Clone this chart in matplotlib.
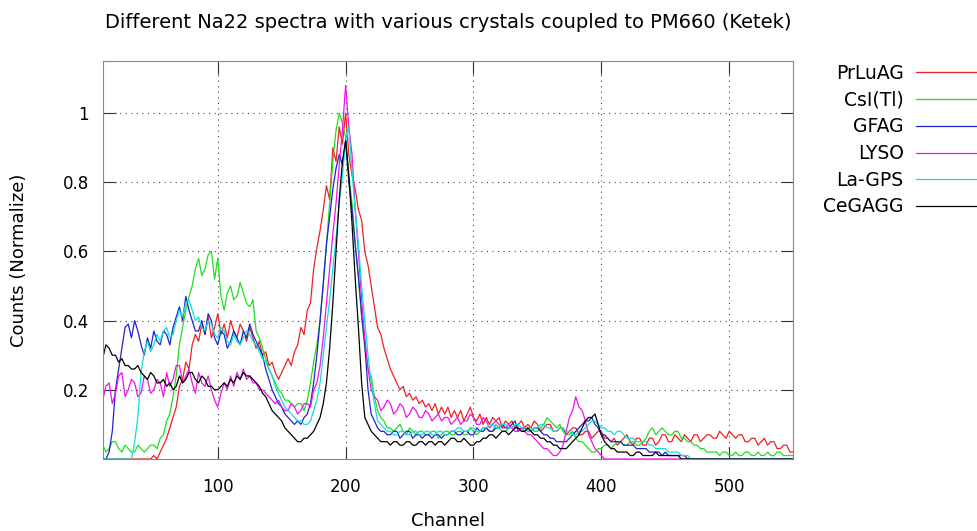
import numpy as np
import matplotlib
matplotlib.use("Agg")
import matplotlib.pyplot as plt

# channel grid: one reading every 2.5 channels, 10 .. 550
channels = np.arange(10, 550.1, 2.5)

prluag = [0.00, 0.00, 0.00, 0.00, 0.00, 0.00, 0.00, 0.00, 0.00, 0.00,
          0.00, 0.00, 0.00, 0.00, 0.00, 0.00, 0.01, 0.00, 0.02, 0.04,
          0.06, 0.09, 0.12, 0.15, 0.21, 0.23, 0.28, 0.26, 0.33, 0.36,
          0.34, 0.39, 0.36, 0.41, 0.35, 0.38, 0.42, 0.36, 0.39, 0.35,
          0.40, 0.37, 0.35, 0.39, 0.37, 0.34, 0.38, 0.35, 0.32, 0.34,
          0.30, 0.31, 0.27, 0.28, 0.25, 0.23, 0.25, 0.27, 0.29, 0.27,
          0.31, 0.33, 0.38, 0.36, 0.43, 0.45, 0.55, 0.61, 0.66, 0.72,
          0.79, 0.75, 0.90, 0.86, 0.96, 0.91, 1.00, 0.88, 0.82, 0.78,
          0.72, 0.69, 0.60, 0.56, 0.50, 0.44, 0.38, 0.36, 0.32, 0.29,
          0.26, 0.24, 0.22, 0.20, 0.21, 0.18, 0.19, 0.17, 0.18, 0.16,
          0.17, 0.15, 0.16, 0.14, 0.16, 0.13, 0.15, 0.13, 0.15, 0.12,
          0.14, 0.12, 0.14, 0.11, 0.13, 0.15, 0.12, 0.11, 0.13, 0.10,
          0.12, 0.10, 0.12, 0.11, 0.12, 0.09, 0.11, 0.10, 0.11, 0.09,
          0.10, 0.11, 0.09, 0.10, 0.09, 0.11, 0.10, 0.08, 0.09, 0.10,
          0.10, 0.08, 0.08, 0.09, 0.09, 0.07, 0.08, 0.09, 0.09, 0.07,
          0.07, 0.08, 0.08, 0.06, 0.07, 0.08, 0.08, 0.06, 0.06, 0.05,
          0.06, 0.04, 0.05, 0.06, 0.07, 0.05, 0.04, 0.06, 0.06, 0.04,
          0.04, 0.06, 0.06, 0.04, 0.05, 0.07, 0.07, 0.05, 0.05, 0.07,
          0.06, 0.05, 0.07, 0.06, 0.05, 0.07, 0.07, 0.05, 0.06, 0.07,
          0.07, 0.06, 0.06, 0.08, 0.07, 0.06, 0.08, 0.07, 0.06, 0.07,
          0.07, 0.05, 0.05, 0.06, 0.06, 0.04, 0.05, 0.06, 0.04, 0.05,
          0.05, 0.03, 0.03, 0.04, 0.04, 0.02, 0.02]

csi = [0.04, 0.02, 0.03, 0.05, 0.05, 0.03, 0.02, 0.04, 0.03, 0.02,
       0.02, 0.04, 0.03, 0.02, 0.03, 0.04, 0.04, 0.03, 0.06, 0.07,
       0.11, 0.13, 0.18, 0.24, 0.33, 0.38, 0.43, 0.47, 0.50, 0.55,
       0.58, 0.53, 0.55, 0.59, 0.60, 0.52, 0.58, 0.47, 0.43, 0.48,
       0.50, 0.46, 0.47, 0.51, 0.48, 0.45, 0.44, 0.46, 0.37, 0.35,
       0.32, 0.29, 0.26, 0.24, 0.22, 0.20, 0.19, 0.17, 0.17, 0.16,
       0.15, 0.16, 0.16, 0.14, 0.17, 0.22, 0.28, 0.33, 0.40, 0.50,
       0.62, 0.74, 0.86, 0.95, 1.00, 0.97, 0.93, 0.82, 0.74, 0.62,
       0.52, 0.41, 0.32, 0.26, 0.24, 0.18, 0.14, 0.12, 0.11, 0.09,
       0.09, 0.08, 0.09, 0.10, 0.08, 0.07, 0.09, 0.08, 0.07, 0.08,
       0.08, 0.07, 0.07, 0.08, 0.08, 0.06, 0.07, 0.08, 0.08, 0.07,
       0.07, 0.08, 0.08, 0.07, 0.07, 0.09, 0.08, 0.07, 0.08, 0.09,
       0.09, 0.08, 0.08, 0.10, 0.09, 0.08, 0.08, 0.09, 0.09, 0.10,
       0.09, 0.08, 0.08, 0.09, 0.09, 0.08, 0.08, 0.09, 0.10, 0.12,
       0.11, 0.10, 0.09, 0.10, 0.08, 0.07, 0.07, 0.08, 0.06, 0.05,
       0.05, 0.04, 0.03, 0.02, 0.02, 0.03, 0.03, 0.04, 0.04, 0.03,
       0.04, 0.05, 0.05, 0.04, 0.04, 0.05, 0.05, 0.04, 0.04, 0.05,
       0.06, 0.08, 0.09, 0.07, 0.08, 0.09, 0.08, 0.07, 0.07, 0.08,
       0.08, 0.06, 0.06, 0.05, 0.05, 0.04, 0.04, 0.03, 0.03, 0.02,
       0.02, 0.02, 0.02, 0.01, 0.02, 0.02, 0.01, 0.01, 0.02, 0.01,
       0.01, 0.02, 0.02, 0.01, 0.01, 0.02, 0.01, 0.01, 0.02, 0.01,
       0.01, 0.02, 0.02, 0.01, 0.01, 0.01, 0.01]

gfag = [0.00, 0.00, 0.02, 0.08, 0.20, 0.26, 0.32, 0.38, 0.39, 0.35,
        0.40, 0.37, 0.33, 0.30, 0.35, 0.32, 0.37, 0.34, 0.33, 0.37,
        0.36, 0.33, 0.38, 0.41, 0.44, 0.40, 0.47, 0.43, 0.40, 0.37,
        0.37, 0.40, 0.36, 0.42, 0.40, 0.35, 0.33, 0.37, 0.36, 0.32,
        0.34, 0.37, 0.35, 0.33, 0.37, 0.35, 0.39, 0.36, 0.34, 0.32,
        0.30, 0.26, 0.23, 0.20, 0.18, 0.16, 0.15, 0.13, 0.12, 0.11,
        0.10, 0.11, 0.10, 0.12, 0.13, 0.16, 0.22, 0.30, 0.40, 0.51,
        0.62, 0.70, 0.78, 0.84, 0.88, 0.85, 0.92, 0.80, 0.72, 0.62,
        0.53, 0.42, 0.33, 0.20, 0.13, 0.11, 0.09, 0.08, 0.08, 0.07,
        0.07, 0.08, 0.08, 0.06, 0.07, 0.08, 0.08, 0.06, 0.07, 0.07,
        0.06, 0.07, 0.07, 0.06, 0.07, 0.07, 0.06, 0.07, 0.07, 0.08,
        0.08, 0.07, 0.07, 0.08, 0.08, 0.07, 0.07, 0.09, 0.08, 0.08,
        0.09, 0.08, 0.08, 0.09, 0.09, 0.10, 0.09, 0.09, 0.10, 0.11,
        0.08, 0.09, 0.09, 0.08, 0.08, 0.09, 0.09, 0.08, 0.07, 0.07,
        0.06, 0.06, 0.05, 0.05, 0.05, 0.05, 0.06, 0.07, 0.08, 0.09,
        0.10, 0.11, 0.11, 0.12, 0.10, 0.09, 0.07, 0.07, 0.06, 0.05,
        0.05, 0.05, 0.05, 0.04, 0.04, 0.04, 0.04, 0.03, 0.03, 0.03,
        0.03, 0.02, 0.02, 0.02, 0.02, 0.01, 0.02, 0.01, 0.01, 0.01,
        0.01, 0.01, 0.01, 0.00, 0.00, 0.00, 0.00, 0.00, 0.00, 0.00,
        0.00, 0.00, 0.00, 0.00, 0.00, 0.00, 0.00, 0.00, 0.00, 0.00,
        0.00, 0.00, 0.00, 0.00, 0.00, 0.00, 0.00, 0.00, 0.00, 0.00,
        0.00, 0.00, 0.00, 0.00, 0.00, 0.00, 0.00]

lyso = [0.17, 0.21, 0.22, 0.16, 0.19, 0.24, 0.25, 0.18, 0.20, 0.23,
        0.22, 0.18, 0.19, 0.24, 0.23, 0.19, 0.20, 0.23, 0.22, 0.18,
        0.25, 0.21, 0.23, 0.27, 0.27, 0.22, 0.24, 0.26, 0.22, 0.19,
        0.25, 0.22, 0.21, 0.24, 0.20, 0.17, 0.15, 0.19, 0.22, 0.20,
        0.24, 0.21, 0.25, 0.23, 0.26, 0.23, 0.24, 0.22, 0.22, 0.20,
        0.20, 0.19, 0.18, 0.17, 0.16, 0.17, 0.15, 0.14, 0.14, 0.16,
        0.15, 0.13, 0.14, 0.16, 0.16, 0.15, 0.20, 0.22, 0.27, 0.35,
        0.45, 0.55, 0.65, 0.74, 0.85, 0.95, 1.08, 0.96, 0.88, 0.72,
        0.60, 0.46, 0.35, 0.26, 0.20, 0.18, 0.17, 0.14, 0.15, 0.17,
        0.16, 0.13, 0.14, 0.16, 0.15, 0.12, 0.13, 0.15, 0.14, 0.12,
        0.12, 0.14, 0.13, 0.11, 0.12, 0.13, 0.11, 0.12, 0.12, 0.10,
        0.11, 0.12, 0.10, 0.11, 0.11, 0.13, 0.12, 0.10, 0.10, 0.12,
        0.11, 0.09, 0.10, 0.11, 0.10, 0.09, 0.09, 0.10, 0.09, 0.08,
        0.08, 0.09, 0.08, 0.07, 0.07, 0.06, 0.05, 0.04, 0.03, 0.03,
        0.02, 0.01, 0.01, 0.02, 0.04, 0.08, 0.12, 0.14, 0.18, 0.15,
        0.14, 0.11, 0.07, 0.05, 0.03, 0.02, 0.01, 0.00, 0.00, 0.00,
        0.00, 0.00, 0.00, 0.00, 0.00, 0.00, 0.00, 0.00, 0.00, 0.00,
        0.00, 0.00, 0.00, 0.00, 0.00, 0.00, 0.00, 0.00, 0.00, 0.00,
        0.00, 0.00, 0.00, 0.00, 0.00, 0.00, 0.00, 0.00, 0.00, 0.00,
        0.00, 0.00, 0.00, 0.00, 0.00, 0.00, 0.00, 0.00, 0.00, 0.00,
        0.00, 0.00, 0.00, 0.00, 0.00, 0.00, 0.00, 0.00, 0.00, 0.00,
        0.00, 0.00, 0.00, 0.00, 0.00, 0.00, 0.00]

lagps = [0.00, 0.00, 0.00, 0.00, 0.00, 0.00, 0.00, 0.00, 0.00, 0.00,
         0.05, 0.12, 0.25, 0.31, 0.34, 0.31, 0.33, 0.36, 0.34, 0.37,
         0.38, 0.35, 0.36, 0.40, 0.43, 0.41, 0.45, 0.46, 0.43, 0.40,
         0.41, 0.38, 0.37, 0.40, 0.39, 0.36, 0.35, 0.38, 0.37, 0.34,
         0.33, 0.36, 0.34, 0.33, 0.35, 0.37, 0.36, 0.34, 0.33, 0.31,
         0.29, 0.28, 0.26, 0.24, 0.21, 0.19, 0.17, 0.15, 0.14, 0.13,
         0.12, 0.11, 0.11, 0.10, 0.10, 0.11, 0.14, 0.17, 0.22, 0.30,
         0.38, 0.46, 0.55, 0.64, 0.74, 0.82, 0.92, 0.96, 0.83, 0.72,
         0.62, 0.50, 0.40, 0.30, 0.22, 0.16, 0.11, 0.10, 0.09, 0.08,
         0.08, 0.07, 0.07, 0.08, 0.08, 0.07, 0.07, 0.08, 0.08, 0.07,
         0.07, 0.08, 0.08, 0.07, 0.07, 0.08, 0.08, 0.07, 0.07, 0.08,
         0.08, 0.09, 0.09, 0.08, 0.08, 0.09, 0.09, 0.08, 0.08, 0.09,
         0.09, 0.10, 0.10, 0.09, 0.09, 0.10, 0.10, 0.09, 0.09, 0.10,
         0.10, 0.09, 0.09, 0.08, 0.08, 0.09, 0.09, 0.10, 0.10, 0.09,
         0.09, 0.08, 0.08, 0.09, 0.09, 0.08, 0.08, 0.07, 0.07, 0.08,
         0.08, 0.09, 0.10, 0.11, 0.11, 0.10, 0.09, 0.09, 0.08, 0.08,
         0.07, 0.08, 0.08, 0.07, 0.06, 0.06, 0.06, 0.05, 0.05, 0.05,
         0.05, 0.04, 0.04, 0.03, 0.03, 0.03, 0.03, 0.02, 0.02, 0.02,
         0.02, 0.01, 0.01, 0.01, 0.00, 0.00, 0.00, 0.00, 0.00, 0.00,
         0.00, 0.00, 0.00, 0.00, 0.00, 0.00, 0.00, 0.00, 0.00, 0.00,
         0.00, 0.00, 0.00, 0.00, 0.00, 0.00, 0.00, 0.00, 0.00, 0.00,
         0.00, 0.00, 0.00, 0.00, 0.00, 0.00, 0.00]

cegagg = [0.29, 0.33, 0.32, 0.30, 0.30, 0.28, 0.29, 0.27, 0.27, 0.26,
          0.26, 0.27, 0.25, 0.24, 0.23, 0.25, 0.24, 0.22, 0.22, 0.23,
          0.21, 0.22, 0.20, 0.21, 0.24, 0.22, 0.23, 0.25, 0.25, 0.23,
          0.22, 0.24, 0.23, 0.21, 0.21, 0.20, 0.20, 0.21, 0.22, 0.21,
          0.23, 0.22, 0.24, 0.23, 0.25, 0.24, 0.24, 0.23, 0.22, 0.21,
          0.19, 0.18, 0.16, 0.14, 0.13, 0.12, 0.11, 0.09, 0.08, 0.07,
          0.06, 0.05, 0.05, 0.06, 0.06, 0.07, 0.08, 0.10, 0.12, 0.16,
          0.22, 0.32, 0.45, 0.60, 0.75, 0.86, 0.92, 0.82, 0.68, 0.52,
          0.38, 0.22, 0.12, 0.10, 0.08, 0.07, 0.06, 0.05, 0.05, 0.05,
          0.04, 0.05, 0.05, 0.04, 0.04, 0.05, 0.05, 0.04, 0.04, 0.05,
          0.05, 0.04, 0.05, 0.05, 0.04, 0.05, 0.05, 0.04, 0.05, 0.06,
          0.06, 0.05, 0.05, 0.06, 0.05, 0.04, 0.04, 0.05, 0.05, 0.06,
          0.06, 0.07, 0.07, 0.06, 0.07, 0.08, 0.08, 0.07, 0.08, 0.09,
          0.09, 0.08, 0.08, 0.09, 0.08, 0.07, 0.07, 0.06, 0.06, 0.05,
          0.05, 0.04, 0.04, 0.03, 0.03, 0.03, 0.04, 0.05, 0.06, 0.07,
          0.09, 0.11, 0.12, 0.12, 0.13, 0.10, 0.07, 0.05, 0.04, 0.03,
          0.03, 0.02, 0.02, 0.02, 0.02, 0.01, 0.01, 0.02, 0.02, 0.01,
          0.01, 0.01, 0.01, 0.02, 0.01, 0.01, 0.01, 0.01, 0.01, 0.01,
          0.01, 0.00, 0.00, 0.00, 0.00, 0.00, 0.00, 0.00, 0.00, 0.00,
          0.00, 0.00, 0.00, 0.00, 0.00, 0.00, 0.00, 0.00, 0.00, 0.00,
          0.00, 0.00, 0.00, 0.00, 0.00, 0.00, 0.00, 0.00, 0.00, 0.00,
          0.00, 0.00, 0.00, 0.00, 0.00, 0.00, 0.00]

labels = ["PrLuAG", "CsI(Tl)", "GFAG", "LYSO", "La-GPS", "CeGAGG"]
colors = ["#ee2222", "#22dd22", "#2222cc", "#ee11ee", "#11dddd", "#000000"]
series = [prluag, csi, gfag, lyso, lagps, cegagg]

fig = plt.figure(figsize=(9.78, 5.31), dpi=100)
ax = fig.add_axes([0.105, 0.1356, 0.706, 0.7494])

for y, lab, c in zip(series, labels, colors):
    ax.plot(channels, y, color=c, lw=0.9, label=lab)

ax.set_xlim(10, 550)
ax.set_ylim(0, 1.15)
ax.set_xticks([100, 200, 300, 400, 500])
ax.set_yticks([0.2, 0.4, 0.6, 0.8, 1.0])
ax.set_yticklabels(["0.2", "0.4", "0.6", "0.8", "1"])
ax.tick_params(direction="in", length=9, width=0.8, top=True, right=True,
               labelsize=12, colors="#333333", labelcolor="black")
ax.tick_params(axis="y", pad=10)
ax.tick_params(axis="x", pad=13.5)
ax.grid(True, color="#444444", linestyle=(0, (1, 4)), linewidth=0.8)
for s in ax.spines.values():
    s.set_color("#888888")

ax.set_title("Different Na22 spectra with various crystals coupled to PM660 (Ketek)",
             fontsize=14, pad=24)
ax.set_xlabel("Channel", fontsize=13, labelpad=12)
ax.set_ylabel("Counts (Normalize)", fontsize=13, labelpad=25)

ax.legend(loc="upper left", bbox_to_anchor=(1.019, 1.035), frameon=False,
          markerfirst=False, fontsize=13.5, handlelength=3.84,
          handletextpad=0.65, labelspacing=0.41)

fig.savefig("out.png", dpi=100)
